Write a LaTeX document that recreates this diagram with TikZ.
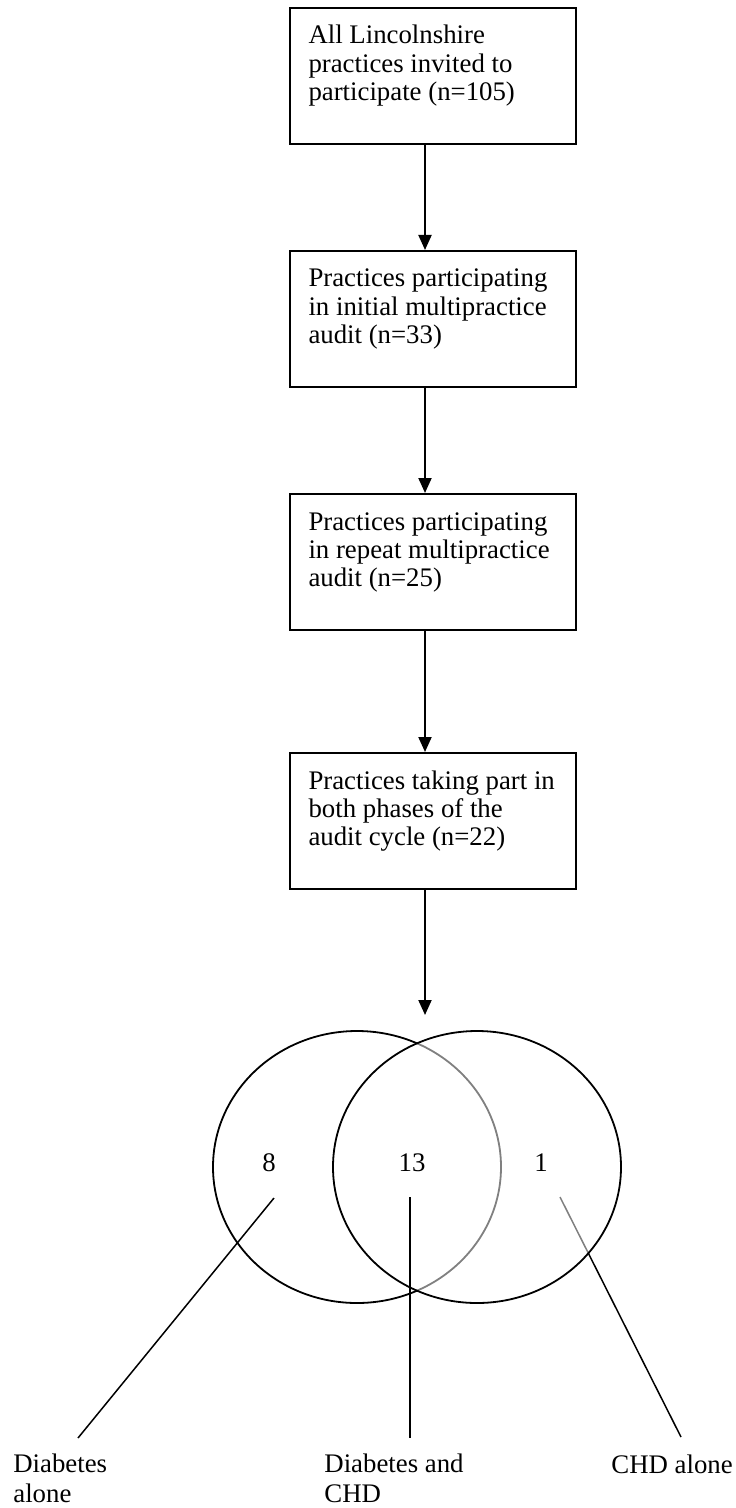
\documentclass[tikz,border=0pt]{standalone}
\usepackage{fontspec}
\setmainfont{Liberation Serif}
\usetikzlibrary{positioning, shapes.geometric, arrows.meta, calc}

\begin{document}
\begin{tikzpicture}[
    x=0.5pt, y=-0.5pt,
    font=\fontsize{13.4pt}{14.2pt}\selectfont,
    % Styles
    stage/.style={ % Flowchart box
        rectangle,
        draw,
        line width=1pt,
        inner sep=0pt,
        inner xsep=9.25pt,
        text width=124.5pt,
        align=flush left,
        text height=18pt,
        text depth=50pt
    },
    set/.style={ % Venn circle
        ellipse,
        draw,
        line width=0.9pt,
        inner sep=0pt,
        minimum width=144pt,
        minimum height=136pt
    },
    group/.style={ % Labels under the Venn diagram
        align=left,
        anchor=base west,
        inner sep=0pt,
        font=\fontsize{13.4pt}{15pt}\selectfont
    },
    arrow/.style={
        -{Triangle[length=7.5pt, width=6.5pt]},
        line width=1pt
    },
    leader/.style={
        line width=0.75pt
    }
]
    \useasboundingbox (0,0) rectangle (735,1508);

    % Flowchart boxes
    \node[stage, anchor=north west] (invited) at (289,7)
        {All Lincolnshire\\practices invited to\\participate (n=105)};
    \node[stage, below=52.5pt of invited] (initial)
        {Practices participating\\in initial multipractice\\audit (n=33)};
    \node[stage, below=52.5pt of initial] (repeat)
        {Practices participating\\in repeat multipractice\\audit (n=25)};
    \node[stage, below=60.5pt of repeat] (both)
        {Practices taking part in\\both phases of the\\audit cycle (n=22)};

    % Arrows between boxes
    \coordinate (spine) at (425,0);
    \coordinate (venn) at (425,1015);
    \foreach \a/\b in {invited/initial, initial/repeat, repeat/both} {
        \draw[arrow] (\a.south -| spine) -- (\b.north -| spine);
    }
    \draw[arrow] (both.south -| spine) -- (venn);

    % Venn diagram
    \node[set] (diabetes) at (357,1167) {};
    \coordinate (pchd) at (560,1197);
    \coordinate (qchd) at (681,1437);
    \draw[leader] (pchd) -- (qchd);
    \node[set, fill=white, fill opacity=0.5] (chd) at (477,1167) {};

    \node (ndiab) at (269,1163) {8};
    \node (nboth) at (412,1163) {13};
    \node (nchd) at (541,1163) {1};

    % Leader lines and labels
    \coordinate (pdiab) at (274,1198);
    \coordinate (qdiab) at (78,1438);
    \coordinate (pboth) at (410,1197);
    \coordinate (qboth) at (410,1438);
    \draw[leader] (pdiab) -- (qdiab);
    \draw[leader] (pboth) -- (qboth);

    \node[group] (ldiab) at (13,1502) {Diabetes\\alone};
    \node[group] (lboth) at (324,1502) {Diabetes and\\CHD};
    \node[group] (lchd) at (611,1473) {CHD alone};
\end{tikzpicture}
\end{document}
